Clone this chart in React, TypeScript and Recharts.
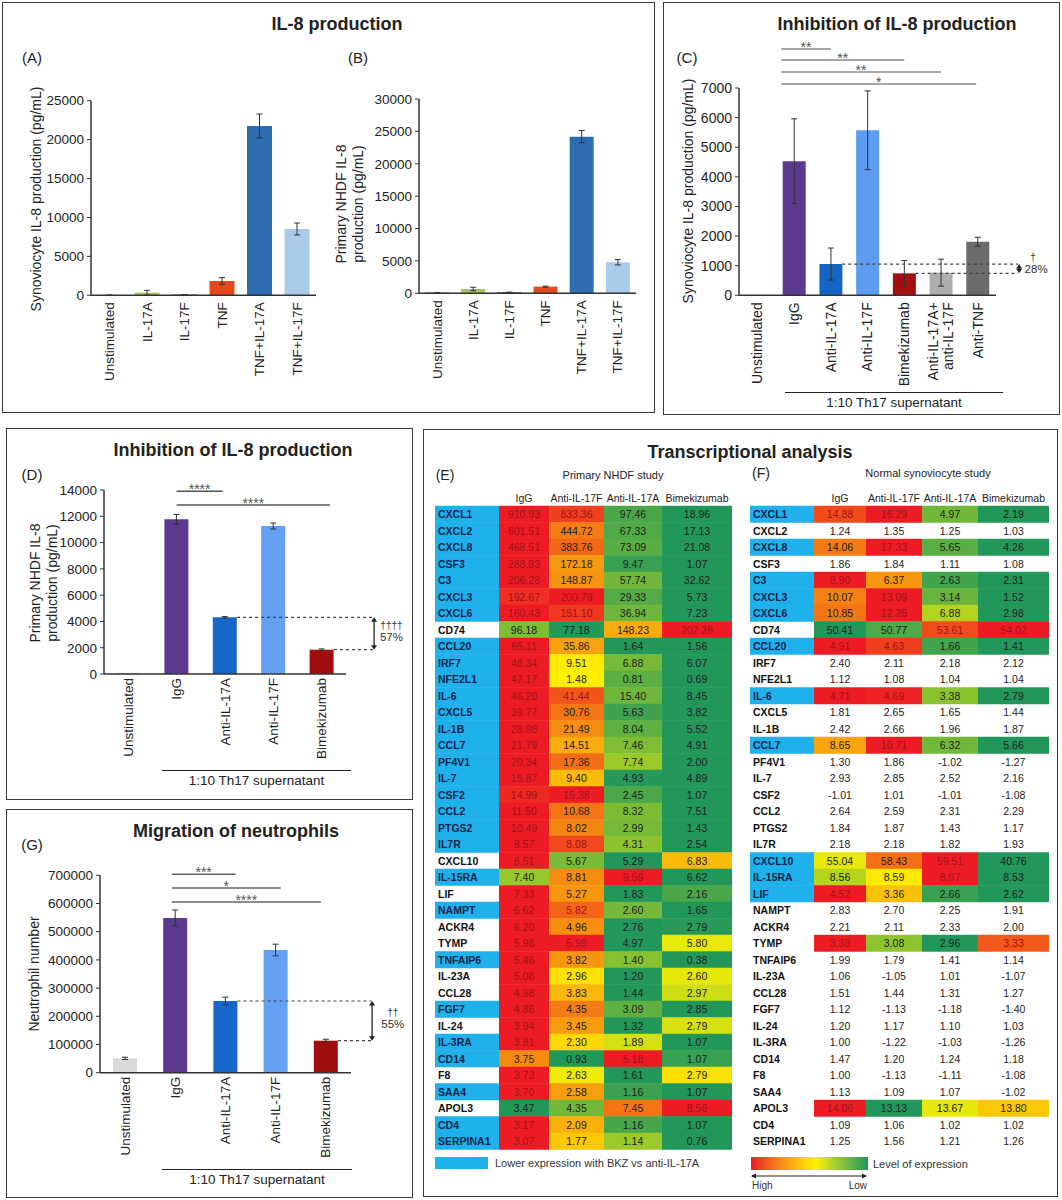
import React from 'react'
import { Bar, BarChart, Cell, ErrorBar, ReferenceLine, XAxis, YAxis } from 'recharts'

const FONT = '"Liberation Sans", Arial, sans-serif'
const INK = '#222'
const AXIS = '#333'
const LOWER_BLUE = '#1fb1ec'

// (A) / (B) IL-8 production after stimulation
const stimLabels = ['Unstimulated', 'IL-17A', 'IL-17F', 'TNF', 'TNF+IL-17A', 'TNF+IL-17F']
const synoIL8 = [15, 340, 85, 1840, 21750, 8520]
const synoIL8Err = [10, 300, 20, 430, 1540, 770]
const nhdfIL8 = [100, 670, 150, 1030, 24190, 4790]
const nhdfIL8Err = [30, 260, 30, 80, 950, 410]

// (C) synoviocytes + 1:10 Th17 supernatant
const synoLabels = ['Unstimulated', 'IgG', 'Anti-IL-17A', 'Anti-IL-17F', 'Bimekizumab', 'Anti-IL-17A+\nanti-IL-17F', 'Anti-TNF']
const synoInhib = [0, 4530, 1056, 5573, 742, 764, 1809]
const synoInhibErr = [0, 1430, 540, 1330, 430, 455, 150]

// (D) NHDF + 1:10 Th17 supernatant
const treatLabels = ['Unstimulated', 'IgG', 'Anti-IL-17A', 'Anti-IL-17F', 'Bimekizumab']
const nhdfInhib = [30, 11770, 4310, 11260, 1850]
const nhdfInhibErr = [0, 370, 60, 230, 60]

// (G) neutrophil migration
const neutrophils = [51000, 548600, 254200, 435100, 113500]
const neutrophilsErr = [4000, 28400, 13600, 20700, 5000]

// (E) / (F) transcriptional analysis
const genes = [
  'CXCL1', 'CXCL2', 'CXCL8', 'CSF3', 'C3', 'CXCL3', 'CXCL6', 'CD74', 'CCL20', 'IRF7',
  'NFE2L1', 'IL-6', 'CXCL5', 'IL-1B', 'CCL7', 'PF4V1', 'IL-7', 'CSF2', 'CCL2', 'PTGS2',
  'IL7R', 'CXCL10', 'IL-15RA', 'LIF', 'NAMPT', 'ACKR4', 'TYMP', 'TNFAIP6', 'IL-23A', 'CCL28',
  'FGF7', 'IL-24', 'IL-3RA', 'CD14', 'F8', 'SAA4', 'APOL3', 'CD4', 'SERPINA1',
]
const colNames = ['IgG', 'Anti-IL-17F', 'Anti-IL-17A', 'Bimekizumab']

const nhdfIgG = [910.93, 601.51, 468.51, 288.83, 206.28, 192.67, 160.43, 96.18, 65.11, 48.34, 47.17, 46.2, 39.77, 28.98, 21.79, 20.34, 15.87, 14.99, 11.5, 10.49, 8.57, 8.51, 7.4, 7.33, 6.62, 6.2, 5.98, 5.46, 5.08, 4.98, 4.86, 3.94, 3.81, 3.75, 3.73, 3.7, 3.47, 3.17, 3.07]
const nhdfAnti17F = [833.36, 444.72, 383.76, 172.18, 148.87, 200.79, 151.1, 77.18, 35.86, 9.51, 1.48, 41.44, 30.76, 21.49, 14.51, 17.36, 9.4, 15.38, 10.68, 8.02, 8.08, 5.67, 8.81, 5.27, 5.82, 4.96, 5.98, 3.82, 2.96, 3.83, 4.35, 3.45, 2.3, 0.93, 2.63, 2.58, 4.35, 2.09, 1.77]
const nhdfAnti17A = [97.46, 67.33, 73.09, 9.47, 57.74, 29.33, 36.94, 148.23, 1.64, 6.88, 0.81, 15.4, 5.63, 8.04, 7.46, 7.74, 4.93, 2.45, 8.32, 2.99, 4.31, 5.29, 9.59, 1.83, 2.6, 2.76, 4.97, 1.4, 1.2, 1.44, 3.09, 1.32, 1.89, 5.18, 1.61, 1.16, 7.45, 1.16, 1.14]
const nhdfBkz = [18.96, 17.13, 21.08, 1.07, 32.62, 5.73, 7.23, 202.28, 1.56, 6.07, 0.69, 8.45, 3.82, 5.52, 4.91, 2.0, 4.89, 1.07, 7.51, 1.43, 2.54, 6.83, 6.62, 2.16, 1.65, 2.79, 5.8, 0.38, 2.6, 2.97, 2.85, 2.79, 1.07, 1.07, 2.79, 1.07, 8.56, 1.07, 0.76]
const nhdfLower = [1, 1, 1, 1, 1, 1, 1, 0, 1, 1, 1, 1, 1, 1, 1, 1, 1, 1, 1, 1, 1, 0, 1, 0, 1, 0, 0, 1, 0, 0, 1, 0, 1, 1, 0, 1, 0, 1, 1]

const synIgG = [14.88, 1.24, 14.06, 1.86, 8.9, 10.07, 10.85, 50.41, 4.91, 2.4, 1.12, 4.71, 1.81, 2.42, 8.65, 1.3, 2.93, -1.01, 2.64, 1.84, 2.18, 55.04, 8.56, 4.52, 2.83, 2.21, 3.38, 1.99, 1.06, 1.51, 1.12, 1.2, 1.0, 1.47, 1.0, 1.13, 14.06, 1.09, 1.25]
const synAnti17F = [16.29, 1.35, 17.33, 1.84, 6.37, 13.09, 12.25, 50.77, 4.63, 2.11, 1.08, 4.69, 2.65, 2.66, 10.71, 1.86, 2.85, 1.01, 2.59, 1.87, 2.18, 58.43, 8.59, 3.36, 2.7, 2.11, 3.08, 1.79, -1.05, 1.44, -1.13, 1.17, -1.22, 1.2, -1.13, 1.09, 13.13, 1.06, 1.56]
const synAnti17A = [4.97, 1.25, 5.65, 1.11, 2.63, 3.14, 6.88, 53.61, 1.66, 2.18, 1.04, 3.38, 1.65, 1.96, 6.32, -1.02, 2.52, -1.01, 2.31, 1.43, 1.82, 59.51, 8.97, 2.66, 2.25, 2.33, 2.96, 1.41, 1.01, 1.31, -1.18, 1.1, -1.03, 1.24, -1.11, 1.07, 13.67, 1.02, 1.21]
const synBkz = [2.19, 1.03, 4.26, 1.08, 2.31, 1.52, 2.98, 54.02, 1.41, 2.12, 1.04, 2.79, 1.44, 1.87, 5.66, -1.27, 2.16, -1.08, 2.29, 1.17, 1.93, 40.76, 8.53, 2.62, 1.91, 2.0, 3.33, 1.14, -1.07, 1.27, -1.4, 1.03, -1.26, 1.18, -1.08, -1.02, 13.8, 1.02, 1.26]
const synLower = [1, 0, 1, 0, 1, 1, 1, 0, 1, 0, 0, 1, 0, 0, 1, 0, 0, 0, 0, 0, 0, 1, 1, 1, 0, 0, 0, 0, 0, 0, 0, 0, 0, 0, 0, 0, 0, 0, 0]
const synColored = [1, 0, 1, 0, 1, 1, 1, 1, 1, 0, 0, 1, 0, 0, 1, 0, 0, 0, 0, 0, 0, 1, 1, 1, 0, 0, 1, 0, 0, 0, 0, 0, 0, 0, 0, 0, 1, 0, 0]

// 3-colour scale per row: min green, median yellow, max red
const LOW = [34, 151, 90]
const MID = [255, 242, 0]
const HIGH = [237, 28, 36]
const mix = (a: number[], b: number[], u: number) =>
  `rgb(${a.map((c, k) => Math.round(c + (b[k] - c) * u)).join(',')})`
function heatLevel(row: number[], v: number) {
  const s = [...row].sort((a, b) => a - b)
  const lo = s[0]
  const hi = s[s.length - 1]
  const med = (s[1] + s[2]) / 2
  if (v <= med) return med > lo ? (0.5 * (v - lo)) / (med - lo) : 0.5
  return hi > med ? 0.5 + (0.5 * (v - med)) / (hi - med) : 0.5
}
const heatColor = (t: number) => (t < 0.5 ? mix(LOW, MID, t * 2) : mix(MID, HIGH, (t - 0.5) * 2))

function Txt({ x, y, size = 14, bold = false, anchor = 'middle', rotate = false, lh, color = INK, children }: any) {
  const tx = anchor === 'middle' ? '-50%' : anchor === 'end' ? '-100%' : '0'
  return (
    <div
      style={{
        position: 'absolute',
        left: x,
        top: y,
        transform: `translate(${tx}, -50%)${rotate ? ' rotate(-90deg)' : ''}`,
        fontSize: size,
        fontWeight: bold ? 700 : 400,
        whiteSpace: 'nowrap',
        color,
        lineHeight: lh ? `${lh}px` : 1.15,
        textAlign: 'center',
      }}
    >
      {children}
    </div>
  )
}

const Box = ({ l, t, r, b }: any) => (
  <div
    style={{
      position: 'absolute',
      left: l,
      top: t,
      width: r - l,
      height: b - t,
      border: '1.5px solid #3a3a3a',
      boxSizing: 'border-box',
    }}
  />
)

const Bracket = ({ x1, x2, y, text }: any) => (
  <>
    <div style={{ position: 'absolute', left: x1, top: y - 0.75, width: x2 - x1, borderTop: '1.5px solid #222' }} />
    <Txt x={(x1 + x2) / 2} y={y + 9.5} size={13.5}>
      {text}
    </Txt>
  </>
)

function RotTick(props: any) {
  const { x, y, payload, labels, gap, size } = props
  const lines: string[] = String(labels[payload.value] ?? '').split('\n')
  return (
    <g>
      {lines.map((ln, k) => {
        const xx = x + (k - (lines.length - 1) / 2) * (size + 1)
        const yy = y + gap
        return (
          <text
            key={k}
            x={xx}
            y={yy}
            transform={`rotate(-90 ${xx} ${yy})`}
            textAnchor="end"
            dominantBaseline="central"
            fontSize={size}
            fill={INK}
          >
            {ln}
          </text>
        )
      })}
    </g>
  )
}

const sigLine = (key: string, x1: number, x2: number, y: number, stars: string, color = '#7a7a7a') => (
  <ReferenceLine
    key={key}
    segment={[{ x: x1, y }, { x: x2, y }]}
    stroke={color}
    strokeWidth={1.5}
    ifOverflow="visible"
    label={{ value: stars, position: 'top', offset: -3, fontSize: 14, fill: '#555' }}
  />
)

const dashLine = (key: string, x1: number, x2: number, y: number) => (
  <ReferenceLine
    key={key}
    segment={[{ x: x1, y }, { x: x2, y }]}
    stroke="#444"
    strokeWidth={1.2}
    strokeDasharray="3 3"
    ifOverflow="visible"
  />
)

const arrowShape = (dag: string, pct: string, dagPos: number[], pctPos: number[]) => (p: any) => {
  const x = p.x1
  const top = Math.min(p.y1, p.y2)
  const bot = Math.max(p.y1, p.y2)
  const mid = (top + bot) / 2
  return (
    <g>
      <line x1={x} y1={top + 2} x2={x} y2={bot - 2} stroke="#222" strokeWidth={1.3} />
      <path d={`M${x - 3},${top + 4.5}L${x},${top}L${x + 3},${top + 4.5}Z`} fill="#222" />
      <path d={`M${x - 3},${bot - 4.5}L${x},${bot}L${x + 3},${bot - 4.5}Z`} fill="#222" />
      <text x={x + dagPos[0]} y={mid + dagPos[1]} textAnchor="middle" dominantBaseline="central" fontSize={10} fill="#333">
        {dag}
      </text>
      <text x={x + pctPos[0]} y={mid + pctPos[1]} textAnchor="middle" dominantBaseline="central" fontSize={11.5} fill="#333">
        {pct}
      </text>
    </g>
  )
}

const arrowLine = (key: string, x: number, yA: number, yB: number, shape: any) => (
  <ReferenceLine key={key} segment={[{ x, y: yA }, { x, y: yB }]} ifOverflow="visible" shape={shape} />
)

interface PanelCfg {
  left: number
  top: number
  width: number
  height: number
  margin: { top: number; right: number; bottom: number; left: number }
  yWidth: number
  xHeight: number
  labels: string[]
  values: number[]
  errors: number[]
  colors: string[]
  yMax: number
  yTicks: number[]
  barSize: number
  size: number
  gap: number
  extras?: React.ReactNode[]
}

function BarPanel(c: PanelCfg) {
  const data = c.values.map((v, i) => ({ i, v, e: c.errors[i] }))
  const n = c.labels.length
  return (
    <div style={{ position: 'absolute', left: c.left, top: c.top }}>
      <BarChart width={c.width} height={c.height} data={data} margin={c.margin}>
        <XAxis
          dataKey="i"
          type="number"
          domain={[-0.5, n - 0.5]}
          ticks={data.map((d) => d.i)}
          interval={0}
          height={c.xHeight}
          tickLine={false}
          tickSize={0}
          tickMargin={0}
          axisLine={{ stroke: AXIS, strokeWidth: 1.5 }}
          tick={(p: any) => <RotTick {...p} labels={c.labels} gap={c.gap} size={c.size} />}
        />
        <YAxis
          type="number"
          domain={[0, c.yMax]}
          ticks={c.yTicks}
          interval={0}
          width={c.yWidth}
          tickSize={4}
          tickMargin={3}
          tickLine={{ stroke: AXIS }}
          axisLine={{ stroke: AXIS, strokeWidth: 1.5 }}
          tick={{ fontSize: c.size, fill: INK }}
        />
        <Bar dataKey="v" barSize={c.barSize} isAnimationActive={false}>
          {data.map((d) => (
            <Cell key={d.i} fill={c.colors[d.i]} />
          ))}
          <ErrorBar dataKey="e" width={3} stroke="#333" strokeWidth={1} isAnimationActive={false} />
        </Bar>
        {c.extras}
      </BarChart>
    </div>
  )
}

interface HeatProps {
  left: number
  top: number
  widths: number[]
  values: number[][]
  lower: number[]
  colored?: number[]
}

function HeatTable({ left, top, widths, values, lower, colored }: HeatProps) {
  const total = widths.reduce((a, b) => a + b, 0)
  const edges = widths.map((_, k) => widths.slice(0, k).reduce((a, b) => a + b, 0))
  const centers = widths.slice(1).map((w, k) => edges[k + 1] + w / 2)
  const rows = genes.map((gene, r) => {
    const row: Record<string, number | string> = { gene, r, lab: widths[0] }
    values.forEach((_, k) => {
      row['c' + k] = widths[k + 1]
    })
    return row
  })
  const rowVals = (r: number) => values.map((col) => col[r])

  const geneShape = (p: any) => {
    const r = Number(p.payload.r)
    return (
      <g>
        {lower[r] ? <rect x={p.x} y={p.y} width={p.width} height={p.height} fill={LOWER_BLUE} /> : null}
        <text
          x={p.x + 3}
          y={p.y + p.height / 2}
          dominantBaseline="central"
          fontSize={10.5}
          fontWeight={700}
          fill={lower[r] ? '#15254a' : '#111'}
        >
          {genes[r]}
        </text>
      </g>
    )
  }

  const valueShape = (k: number) => (p: any) => {
    const r = Number(p.payload.r)
    const v = values[k][r]
    const paint = !colored || !!colored[r]
    const t = heatLevel(rowVals(r), v)
    return (
      <g>
        {paint ? <rect x={p.x} y={p.y} width={p.width} height={p.height} fill={heatColor(t)} /> : null}
        <text
          x={p.x + p.width / 2}
          y={p.y + p.height / 2}
          textAnchor="middle"
          dominantBaseline="central"
          fontSize={10.5}
          fill={paint && t >= 0.83 ? '#a3131b' : INK}
        >
          {v.toFixed(2)}
        </text>
      </g>
    )
  }

  return (
    <div style={{ position: 'absolute', left, top }}>
      <BarChart
        layout="vertical"
        width={total + 13}
        height={670}
        data={rows}
        margin={{ top: 6.75, right: 8, bottom: 5.75, left: 5 }}
        barCategoryGap={0}
        barGap={0}
      >
        <XAxis
          type="number"
          orientation="top"
          domain={[0, total]}
          ticks={centers}
          interval={0}
          height={14}
          axisLine={false}
          tickLine={false}
          tickSize={0}
          tickMargin={0}
          tick={(p: any) => (
            <text x={p.x} y={p.y - 7.5} textAnchor="middle" dominantBaseline="central" fontSize={10.5} fill={INK}>
              {colNames[centers.indexOf(p.payload.value)]}
            </text>
          )}
        />
        <YAxis type="category" dataKey="gene" hide />
        <Bar dataKey="lab" stackId="row" isAnimationActive={false} shape={geneShape} />
        {values.map((_, k) => (
          <Bar key={k} dataKey={'c' + k} stackId="row" isAnimationActive={false} shape={valueShape(k)} />
        ))}
      </BarChart>
    </div>
  )
}

const stimColors = ['#333333', '#a3c562', '#333333', '#e2491d', '#2e6daf', '#aacaea']
const synoColors = ['#666666', '#5b3a8f', '#1565c4', '#5e9cf2', '#a30f0f', '#aeaeb0', '#6b6b6b']
const treatColors = ['#666666', '#5b3a8f', '#1767c9', '#64a0f4', '#a00d0d']
const neutroColors = ['#d9d9d9', '#5b3a8f', '#1767c9', '#64a0f4', '#a00d0d']

export default function App() {
  return (
    <div
      style={{
        position: 'absolute',
        left: 0,
        top: 0,
        width: 1062,
        height: 1200,
        background: '#fff',
        fontFamily: FONT,
        color: INK,
        overflow: 'hidden',
      }}
    >
      <Box l={2} t={2} r={655} b={413} />
      <Box l={663} t={2} r={1060} b={415} />
      <Box l={6} t={428} r={413} b={800} />
      <Box l={6} t={809} r={413} b={1198} />
      <Box l={423} t={429} r={1058} b={1197} />

      {/* IL-8 production (A, B) */}
      <Txt x={337} y={24} size={18} bold>
        IL-8 production
      </Txt>
      <Txt x={32} y={58} size={15}>
        (A)
      </Txt>
      <Txt x={358} y={58} size={15}>
        (B)
      </Txt>
      <Txt x={36} y={199} size={14} rotate>
        Synoviocyte IL-8 production (pg/mL)
      </Txt>
      <Txt x={350} y={204} size={14} rotate lh={17}>
        Primary NHDF IL-8
        <br />
        production (pg/mL)
      </Txt>
      <BarPanel
        left={10}
        top={50}
        width={320}
        height={360}
        margin={{ top: 50.7, right: 14, bottom: 14.7, left: 0 }}
        yWidth={81}
        xHeight={100}
        labels={stimLabels}
        values={synoIL8}
        errors={synoIL8Err}
        colors={stimColors}
        yMax={25000}
        yTicks={[0, 5000, 10000, 15000, 20000, 25000]}
        barSize={25}
        size={13.5}
        gap={7}
      />
      <BarPanel
        left={330}
        top={50}
        width={320}
        height={360}
        margin={{ top: 49, right: 14, bottom: 16.7, left: 0 }}
        yWidth={89}
        xHeight={100}
        labels={stimLabels}
        values={nhdfIL8}
        errors={nhdfIL8Err}
        colors={stimColors}
        yMax={30000}
        yTicks={[0, 5000, 10000, 15000, 20000, 25000, 30000]}
        barSize={24}
        size={13.5}
        gap={7}
      />

      {/* Inhibition of IL-8 production (C) */}
      <Txt x={897} y={24} size={18} bold>
        Inhibition of IL-8 production
      </Txt>
      <Txt x={687} y={58} size={15}>
        (C)
      </Txt>
      <Txt x={688} y={191} size={14} rotate>
        Synoviocyte IL-8 production (pg/mL)
      </Txt>
      <BarPanel
        left={672}
        top={30}
        width={388}
        height={380}
        margin={{ top: 58, right: 64, bottom: 14.7, left: 0 }}
        yWidth={67}
        xHeight={100}
        labels={synoLabels}
        values={synoInhib}
        errors={synoInhibErr}
        colors={synoColors}
        yMax={7000}
        yTicks={[0, 1000, 2000, 3000, 4000, 5000, 6000, 7000]}
        barSize={23}
        size={14}
        gap={7}
        extras={[
          sigLine('c1', 0.65, 2, 8317, '**', '#888'),
          sigLine('c2', 0.65, 4, 7946, '**', '#888'),
          sigLine('c3', 0.65, 5, 7541, '**', '#888'),
          sigLine('c4', 0.65, 5.96, 7135, '*', '#888'),
          dashLine('cd1', 2.31, 7.1, synoInhib[2]),
          dashLine('cd2', 4.31, 7.1, synoInhib[4]),
          arrowLine('ca', 7.13, synoInhib[2], synoInhib[4], arrowShape('†', '28%', [14, -11.5], [17, 0.5])),
        ]}
      />
      <Bracket x1={785} x2={1003} y={393} text="1:10 Th17 supernatant" />

      {/* Inhibition of IL-8 production (D) */}
      <Txt x={233} y={450} size={18} bold>
        Inhibition of IL-8 production
      </Txt>
      <Txt x={32} y={475} size={15}>
        (D)
      </Txt>
      <Txt x={43.5} y={583} size={14} rotate lh={16.7}>
        Primary NHDF IL-8
        <br />
        production (pg/mL)
      </Txt>
      <BarPanel
        left={10}
        top={468}
        width={400}
        height={306}
        margin={{ top: 22, right: 64, bottom: 8, left: 0 }}
        yWidth={94}
        xHeight={92}
        labels={treatLabels}
        values={nhdfInhib}
        errors={nhdfInhibErr}
        colors={treatColors}
        yMax={14000}
        yTicks={[0, 2000, 4000, 6000, 8000, 10000, 12000, 14000]}
        barSize={24}
        size={13.5}
        gap={4}
        extras={[
          sigLine('d1', 1.0, 1.95, 13900, '****', '#555'),
          sigLine('d2', 1.0, 4.17, 12860, '****', '#555'),
          dashLine('dd1', 2.25, 5.06, nhdfInhib[2]),
          dashLine('dd2', 4.25, 5.06, nhdfInhib[4]),
          arrowLine('da', 5.08, nhdfInhib[2], nhdfInhib[4], arrowShape('††††', '57%', [17.4, -8.5], [17.4, 3])),
        ]}
      />
      <Bracket x1={162} x2={351} y={771} text="1:10 Th17 supernatant" />

      {/* Migration of neutrophils (G) */}
      <Txt x={236} y={831} size={18} bold>
        Migration of neutrophils
      </Txt>
      <Txt x={32} y={845} size={15}>
        (G)
      </Txt>
      <Txt x={33.5} y={974} size={14} rotate>
        Neutrophil number
      </Txt>
      <BarPanel
        left={10}
        top={850}
        width={400}
        height={314}
        margin={{ top: 25.3, right: 59, bottom: 7.3, left: 0 }}
        yWidth={90}
        xHeight={84}
        labels={treatLabels}
        values={neutrophils}
        errors={neutrophilsErr}
        colors={neutroColors}
        yMax={700000}
        yTicks={[0, 100000, 200000, 300000, 400000, 500000, 600000, 700000]}
        barSize={24}
        size={13.5}
        gap={4}
        extras={[
          sigLine('g1', 0.93, 2.2, 703500, '***', '#666'),
          sigLine('g2', 0.93, 3.1, 655000, '*', '#666'),
          sigLine('g3', 0.93, 3.9, 605300, '****', '#666'),
          dashLine('gd1', 2.24, 4.91, neutrophils[2]),
          dashLine('gd2', 4.24, 4.91, neutrophils[4]),
          arrowLine('ga', 4.92, neutrophils[2], neutrophils[4], arrowShape('††', '55%', [20.7, -8], [20.7, 3])),
        ]}
      />
      <Bracket x1={162} x2={352} y={1170} text="1:10 Th17 supernatant" />

      {/* Transcriptional analysis (E, F) */}
      <Txt x={750} y={452} size={18} bold>
        Transcriptional analysis
      </Txt>
      <Txt x={445} y={475} size={14}>
        (E)
      </Txt>
      <Txt x={613} y={475} size={11}>
        Primary NHDF study
      </Txt>
      <Txt x={761} y={473} size={14}>
        (F)
      </Txt>
      <Txt x={928} y={473} size={11}>
        Normal synoviocyte study
      </Txt>
      <HeatTable
        left={430}
        top={485}
        widths={[64, 50, 55, 58, 70]}
        values={[nhdfIgG, nhdfAnti17F, nhdfAnti17A, nhdfBkz]}
        lower={nhdfLower}
      />
      <HeatTable
        left={745}
        top={485}
        widths={[64, 52, 56, 56, 71]}
        values={[synIgG, synAnti17F, synAnti17A, synBkz]}
        lower={synLower}
        colored={synColored}
      />

      {/* legends */}
      <div style={{ position: 'absolute', left: 435, top: 1157, width: 53, height: 12, background: LOWER_BLUE }} />
      <Txt x={495} y={1163} size={11} anchor="start" color="#333">
        Lower expression with BKZ vs anti-IL-17A
      </Txt>
      <div
        style={{
          position: 'absolute',
          left: 751,
          top: 1157,
          width: 117,
          height: 13,
          background: 'linear-gradient(to right, #ed1c24 0%, #f7941d 27%, #fff200 55%, #8dc63f 76%, #22975a 100%)',
        }}
      />
      <Txt x={873} y={1163.5} size={11} anchor="start" color="#333">
        Level of expression
      </Txt>
      <svg style={{ position: 'absolute', left: 748, top: 1171 }} width={124} height={10}>
        <line x1={4} y1={5} x2={118} y2={5} stroke="#222" strokeWidth={1.2} />
        <path d="M3,5L8,2.5L8,7.5Z" fill="#222" />
        <path d="M119,5L114,2.5L114,7.5Z" fill="#222" />
      </svg>
      <Txt x={752} y={1186} size={10} anchor="start" color="#333">
        High
      </Txt>
      <Txt x={867} y={1186} size={10} anchor="end" color="#333">
        Low
      </Txt>
    </div>
  )
}
